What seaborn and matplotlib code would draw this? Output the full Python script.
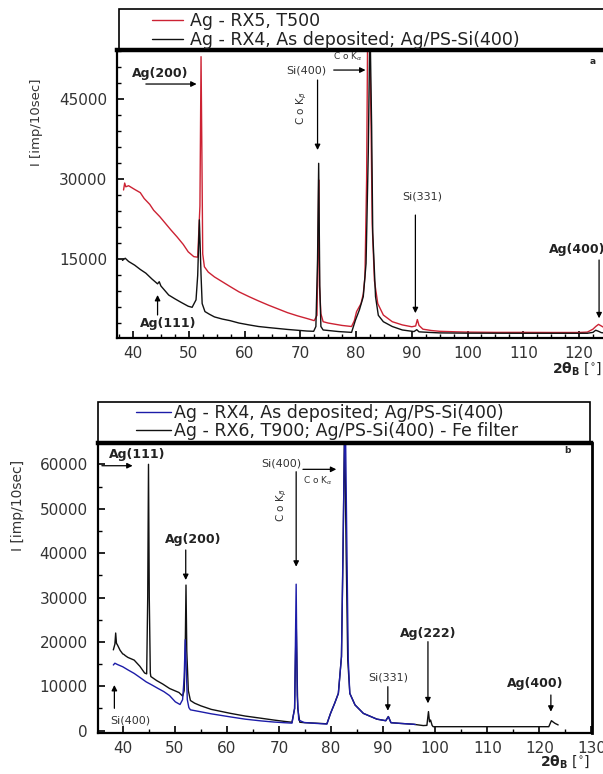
import matplotlib
matplotlib.use("Agg")
import matplotlib.pyplot as plt
import matplotlib.patches as mpatches
from matplotlib.ticker import MultipleLocator
import seaborn as sns
import numpy as np

# ---------------- data ----------------
# Panel a : Ag - RX5, T500 (red)
a_red_x = [38.3, 38.5, 38.7, 39.2, 40.3, 41.3, 42.0, 43.0, 43.7, 44.8, 45.8, 46.8, 47.9, 49.0,
           49.9, 50.9, 51.6, 52.0, 52.2, 52.35, 52.5, 52.8, 53.5, 54.6, 56.0, 57.4, 59.0, 60.8,
           62.5, 64.3, 66.0, 67.7, 69.5, 71.2, 72.5, 73.0, 73.2, 73.3, 73.45, 73.7, 74.1, 75.0,
           76.1, 77.5, 79.2, 79.7, 80.1, 80.9, 81.3, 81.6, 81.9, 82.1, 82.4, 82.7, 82.9, 83.3,
           83.9, 84.9, 86.5, 88.3, 90.0, 90.7, 91.0, 91.3, 92.0, 93.5, 95.0, 98.0, 100.0, 105.0,
           110.0, 115.0, 120.0, 121.5, 122.5, 123.0, 123.5, 124.0, 124.5, 125.0]
a_red_y = [28000, 29300, 28600, 28800, 28100, 27500, 26400, 25300, 24200, 23000, 21750, 20500,
           19200, 17800, 16400, 15500, 15400, 25000, 53000, 35000, 16000, 13600, 12600, 11700,
           10800, 9900, 8900, 8000, 7200, 6400, 5700, 5000, 4400, 3900, 3500, 4500, 18000, 29900,
           10000, 4800, 3300, 3050, 2850, 2600, 2400, 3500, 5200, 6700, 8500, 11700, 30000, 60000,
           60000, 40000, 21700, 11000, 6700, 4550, 3300, 2700, 2350, 2500, 3700, 2600, 1900, 1650,
           1500, 1400, 1350, 1300, 1300, 1280, 1280, 1350, 1900, 2400, 2800, 2500, 2200, 2000]

# Panel a : Ag - RX4, As deposited; Ag/PS-Si(400) (black)
a_blk_x = [38.1, 38.6, 39.2, 40.3, 41.3, 42.3, 43.4, 44.4, 44.7, 45.0, 46.4, 47.5, 48.5, 49.9,
           50.6, 51.3, 51.6, 51.9, 52.2, 52.4, 52.9, 53.7, 54.6, 56.0, 57.4, 59.0, 60.8, 62.5,
           64.3, 67.7, 71.2, 72.4, 72.8, 73.1, 73.3, 73.5, 73.7, 74.1, 76.9, 79.2, 79.9, 80.6,
           81.3, 81.8, 82.2, 82.5, 82.8, 83.0, 83.5, 84.0, 84.9, 86.5, 88.3, 90.4, 90.9, 91.3,
           93.0, 95.0, 100.0, 110.0, 121.5, 122.5, 123.0, 123.5, 124.0, 124.5]
a_blk_y = [14800, 15200, 14600, 13900, 13100, 12400, 11300, 10400, 10800, 10000, 8300, 7600,
           7000, 6200, 6000, 7400, 12000, 22400, 12000, 6700, 5200, 4700, 4200, 3800, 3500, 3050,
           2700, 2400, 2200, 1850, 1550, 1500, 2400, 15000, 33000, 10000, 2400, 1750, 1450, 1300,
           3600, 5500, 8000, 14200, 35000, 60000, 40000, 20000, 8000, 4500, 3300, 2400, 1750, 1450,
           1800, 1400, 1300, 1200, 1150, 1130, 1130, 1300, 1700, 1500, 1250, 1200]

# Panel b : Ag - RX6, T900; Ag/PS-Si(400) - Fe filter (black)
b_blk_x = [38.2, 38.5, 38.65, 38.8, 39.0, 39.5, 40.0, 40.2, 40.5, 41.0, 42.2, 43.3, 44.2, 44.6,
           44.8, 44.95, 45.1, 45.3, 45.4, 46.5, 47.7, 49.0, 50.8, 51.5, 51.8, 52.0, 52.15, 52.3,
           52.6, 53.0, 53.8, 55.0, 57.0, 60.7, 63.5, 66.6, 69.0, 71.0, 72.5, 73.0, 73.3, 73.6,
           74.0, 75.0, 77.0, 79.2, 79.9, 80.7, 81.4, 82.0, 82.3, 82.6, 82.9, 83.2, 83.6, 84.6,
           86.2, 88.8, 90.5, 91.0, 91.5, 93.2, 95.8, 97.7, 98.4, 98.7, 98.9, 99.1, 99.4, 99.6,
           110.0, 121.8, 122.3, 122.7, 123.0, 123.6]
b_blk_y = [18200, 19500, 22000, 19700, 19300, 18100, 17300, 17200, 16900, 16500, 15900, 14500,
           13000, 12800, 30000, 60000, 30000, 13000, 12200, 11300, 10500, 9500, 8600, 7800, 9000,
           18000, 32800, 18000, 9000, 6800, 6200, 5600, 4800, 3900, 3300, 2800, 2400, 2100, 1900,
           5000, 25000, 5000, 1900, 1800, 1700, 1550, 3900, 6200, 8400, 16700, 40000, 70000, 40000,
           16000, 8400, 5800, 3900, 2600, 2250, 3200, 1800, 1650, 1450, 1150, 1200, 4300, 2000,
           2400, 1200, 900, 900, 900, 2250, 1900, 1650, 1300]

# Panel b : Ag - RX4, As deposited; Ag/PS-Si(400) (blue)
b_blu_x = [38.2, 38.5, 39.0, 40.0, 41.0, 42.2, 43.3, 44.5, 45.6, 46.8, 47.9, 49.0, 50.1, 51.0,
           51.5, 51.8, 52.0, 52.2, 52.4, 52.7, 53.0, 54.8, 57.0, 60.7, 63.5, 66.6, 69.0, 71.0,
           72.5, 73.0, 73.3, 73.5, 73.8, 74.8, 77.0, 79.2, 79.9, 80.7, 81.4, 82.0, 82.4, 82.7,
           83.0, 83.3, 83.6, 84.6, 86.2, 88.8, 90.5, 91.0, 91.5, 93.2, 95.8, 96.2]
b_blu_y = [14800, 15200, 14900, 14400, 13700, 12900, 12000, 11000, 10300, 9500, 8800, 7900,
           6500, 5900, 7000, 12000, 20500, 14000, 7000, 5200, 4700, 4300, 3800, 3100, 2600, 2200,
           1950, 1800, 1700, 5000, 33000, 8000, 2400, 1850, 1650, 1500, 3900, 6200, 8400, 16700,
           50000, 75000, 45000, 16000, 8400, 5800, 3900, 2600, 2250, 3150, 1800, 1650, 1450, 1400]

legend_a = ["Ag - RX5, T500", "Ag - RX4, As deposited; Ag/PS-Si(400)"]
legend_b = ["Ag - RX4, As deposited; Ag/PS-Si(400)", "Ag - RX6, T900; Ag/PS-Si(400) - Fe filter"]
ylabel_text = "I [imp/10sec]"
xlabel_text = r"$\mathbf{2\theta_B}$ [$^{\circ}$]"

# ---------------- style ----------------
sns.set_theme(style="white")
plt.rcParams['font.family'] = ['DejaVu Sans']
plt.rcParams['mathtext.fontset'] = 'dejavusans'
TXT = '#333333'
RED = '#cc2233'
BLUE = '#1c1ca8'
BLK = '#111111'

W, H = 603, 774
fig = plt.figure(figsize=(W / 100, H / 100), dpi=100)


def fx(px):
    return px / W


def fy(py):
    return 1 - py / H


def style_axes(ax, xminor, ymajor, yminor):
    for s in ax.spines.values():
        s.set_color('black')
        s.set_linewidth(1.6)
    ax.spines['top'].set_linewidth(3.2)
    ax.xaxis.set_major_locator(MultipleLocator(10))
    ax.xaxis.set_minor_locator(MultipleLocator(xminor))
    ax.yaxis.set_major_locator(MultipleLocator(ymajor))
    ax.yaxis.set_minor_locator(MultipleLocator(yminor))
    ax.tick_params(which='both', direction='in', colors='black', labelcolor=TXT,
                   labelsize=11, top=False, right=False, bottom=True, left=True)
    ax.tick_params(which='major', length=5, width=1.2, pad=6)
    ax.tick_params(which='minor', length=3, width=1.0)
    ax.tick_params(axis='y', pad=7)
    ax.set_facecolor('white')


# ================= panel a =================
axa = fig.add_axes([fx(116.7), fy(338), fx(634.75) - fx(116.7), fy(50) - fy(338)])
sns.lineplot(x=a_red_x, y=a_red_y, ax=axa, color=RED, lw=1.0, estimator=None, label=legend_a[0])
sns.lineplot(x=a_blk_x, y=a_blk_y, ax=axa, color=BLK, lw=1.0, estimator=None, label=legend_a[1])
axa.set_xlim(37.07, 130)
axa.set_ylim(244, 54250)
style_axes(axa, 2.5, 15000, 3000)
axa.set_ylabel(ylabel_text, fontsize=9.5, color=TXT)
axa.yaxis.set_label_coords(-0.142, 0.75)
axa.set_xlabel('')

arr = dict(arrowstyle='-|>', color='black', lw=0.9, mutation_scale=8, shrinkA=0, shrinkB=0)
bold = dict(fontsize=9, fontweight='bold', color='#222222', ha='center', va='center')
norm = dict(fontsize=8, color='#333333', ha='center', va='center')

axa.text(44.8, 49930, "Ag(200)", **bold)
axa.annotate("", xy=(51.4, 47870), xytext=(42.3, 47870), arrowprops=arr)
axa.text(71.0, 50490, "Si(400)", **norm)
axa.annotate("", xy=(81.7, 50490), xytext=(76.0, 50490), arrowprops=arr)
axa.text(78.6, 53000, r"C o K$_{\alpha}$", fontsize=6.5, color='#333333', ha='center', va='center')
axa.text(70.3, 43350, r"C o K$_{\beta}$", fontsize=7.5, color='#333333', ha='center', va='center',
         rotation=90)
axa.annotate("", xy=(73.1, 35490), xytext=(73.1, 48620), arrowprops=arr)
axa.text(91.8, 26870, "Si(331)", **norm)
axa.annotate("", xy=(90.65, 4900), xytext=(90.65, 23300), arrowprops=arr)
axa.text(119.6, 16880, "Ag(400)", **bold)
axa.annotate("", xy=(123.6, 3940), xytext=(123.6, 14870), arrowprops=arr)
axa.text(46.3, 2870, "Ag(111)", **bold)
axa.annotate("", xy=(44.4, 8310), xytext=(44.4, 4560), arrowprops=arr)
fig.text(fx(593), fy(62), "a", fontsize=6.5, fontweight='bold', ha='center', va='center')

h, l = axa.get_legend_handles_labels()
leg = axa.legend(h, l, loc='upper left', bbox_to_anchor=(fx(152), fy(12)),
                 bbox_transform=fig.transFigure, frameon=False, fontsize=12.5,
                 handlelength=1.8, handletextpad=0.4, labelspacing=0.05,
                 borderpad=0, borderaxespad=0)
for t in leg.get_texts():
    t.set_color('#222222')
fig.add_artist(mpatches.Rectangle((fx(119), fy(50)), fx(720) - fx(119), fy(9.3) - fy(50),
                                  transform=fig.transFigure, fill=False, lw=1.2,
                                  edgecolor='black', clip_on=False))
fig.text(fx(552), fy(369), xlabel_text, fontsize=10, color='#222222', ha='left', va='center')

# ================= panel b =================
axb = fig.add_axes([fx(97.5), fy(733), fx(591.5) - fx(97.5), fy(443) - fy(733)])
sns.lineplot(x=b_blk_x, y=b_blk_y, ax=axb, color=BLK, lw=1.0, estimator=None, label=legend_b[1])
sns.lineplot(x=b_blu_x, y=b_blu_y, ax=axb, color=BLUE, lw=1.0, estimator=None, label=legend_b[0])
axb.set_xlim(35.16, 130)
axb.set_ylim(-520, 64800)
style_axes(axb, 5, 10000, 5000)
axb.spines['right'].set_linewidth(2.0)
axb.set_ylabel(ylabel_text, fontsize=10, color=TXT)
axb.yaxis.set_label_coords(-0.147, 0.786)
axb.set_xlabel('')

axb.text(42.8, 62320, "Ag(111)", **bold)
axb.annotate("", xy=(41.9, 59680), xytext=(36.0, 59680), arrowprops=arr)
axb.text(70.4, 60100, "Si(400)", **norm)
axb.annotate("", xy=(81.0, 58870), xytext=(74.6, 58870), arrowprops=arr)
axb.text(77.4, 56300, r"C o K$_{\alpha}$", fontsize=6.5, color='#333333', ha='center', va='center')
axb.text(70.5, 50830, r"C o K$_{\beta}$", fontsize=7.5, color='#333333', ha='center', va='center',
         rotation=90)
axb.annotate("", xy=(73.3, 36940), xytext=(73.3, 58330), arrowprops=arr)
axb.text(53.5, 43100, "Ag(200)", **bold)
axb.annotate("", xy=(52.1, 33940), xytext=(52.1, 40700), arrowprops=arr)
axb.text(91.0, 11940, "Si(331)", **norm)
axb.annotate("", xy=(90.9, 4500), xytext=(90.9, 9910), arrowprops=arr)
axb.text(98.6, 21940, "Ag(222)", **bold)
axb.annotate("", xy=(98.6, 6170), xytext=(98.6, 20050), arrowprops=arr)
axb.text(119.1, 10740, "Ag(400)", **bold)
axb.annotate("", xy=(122.2, 4280), xytext=(122.2, 8040), arrowprops=arr)
axb.text(41.5, 2250, "Si(400)", **norm)
axb.annotate("", xy=(38.4, 10290), xytext=(38.4, 5040), arrowprops=arr)
fig.text(fx(567), fy(451), "b", fontsize=6.5, fontweight='bold', ha='center', va='center')

h, l = axb.get_legend_handles_labels()
order = [1, 0]
leg = axb.legend([h[i] for i in order], [l[i] for i in order], loc='upper left',
                 bbox_to_anchor=(fx(136), fy(404)), bbox_transform=fig.transFigure,
                 frameon=False, fontsize=12.5, handlelength=2.0, handletextpad=0.2,
                 labelspacing=0.0, borderpad=0, borderaxespad=0)
for t in leg.get_texts():
    t.set_color('#222222')
fig.add_artist(mpatches.Rectangle((fx(97.5), fy(443)), fx(590) - fx(97.5), fy(402) - fy(443),
                                  transform=fig.transFigure, fill=False, lw=1.2,
                                  edgecolor='black', clip_on=False))
fig.text(fx(540), fy(762), xlabel_text, fontsize=10, color='#222222', ha='left', va='center')

fig.savefig("out.png", dpi=100, facecolor='white')
